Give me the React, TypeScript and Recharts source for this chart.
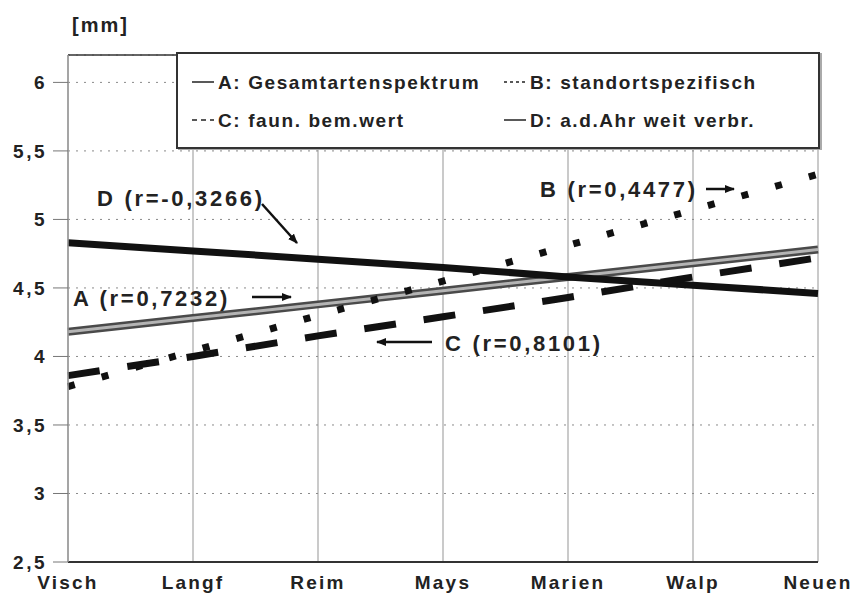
import React from 'react';
import { LineChart, Line, XAxis, YAxis, CartesianGrid, ReferenceLine } from 'recharts';

const sites = ['Visch', 'Langf', 'Reim', 'Mays', 'Marien', 'Walp', 'Neuen'];
// values, in mm
const seriesA = [4.18, 4.28, 4.38, 4.48, 4.58, 4.68, 4.78];
const seriesB = [3.78, 4.04, 4.3, 4.55, 4.81, 5.07, 5.33];
const seriesC = [3.86, 4.0, 4.15, 4.29, 4.43, 4.58, 4.72];
const seriesD = [4.83, 4.77, 4.71, 4.65, 4.58, 4.52, 4.46];
const yTicks = [2.5, 3, 3.5, 4, 4.5, 5, 5.5, 6];

const legendItems = [
  { label: 'A: Gesamtartenspektrum', dash: '' },
  { label: 'B: standortspezifisch', dash: '3 3' },
  { label: 'C: faun. bem.wert', dash: '5 4' },
  { label: 'D: a.d.Ahr weit verbr.', dash: '' },
];

const FONT = '"Liberation Sans", Arial, Helvetica, sans-serif';

const data = sites.map((s, i) => ({
  site: s,
  A: seriesA[i],
  B: seriesB[i],
  C: seriesC[i],
  D: seriesD[i],
}));

const YTick = (props: any) => {
  const { x, y, payload } = props;
  return (
    <text x={x} y={y} dy="0.36em" textAnchor="end" fontSize={19} fontWeight="bold"
      fill="#222" fontFamily={FONT} letterSpacing={2.5}>
      {String(payload.value).replace('.', ',')}
    </text>
  );
};

const XTick = (props: any) => {
  const { x, y, payload } = props;
  return (
    <text x={x} y={y} dy="0.71em" textAnchor="middle" fontSize={19} fontWeight="bold"
      fill="#222" fontFamily={FONT} letterSpacing={2.2}>
      {payload.value}
    </text>
  );
};

const Arrow = ({ x1, y1, x2, y2 }: { x1: number; y1: number; x2: number; y2: number }) => (
  <line x1={x1} y1={y1} x2={x2} y2={y2} stroke="#111" strokeWidth={2.5} markerEnd="url(#arrowHead)" />
);

const App: React.FC = () => {
  return (
    <div style={{ position: 'absolute', left: 0, top: 0, width: 858, height: 595, background: '#fff', fontFamily: FONT }}>
      <LineChart width={858} height={595} data={data} margin={{ top: 55, right: 40, bottom: 0, left: 0 }}>
        <CartesianGrid horizontal={false} stroke="#b8b8b8" strokeWidth={1.5} />
        <CartesianGrid vertical={false} stroke="#8a8a8a" strokeDasharray="2 6" />
        <XAxis dataKey="site" height={33} tickLine={false} tickMargin={8} tick={<XTick />}
          axisLine={{ stroke: '#333', strokeWidth: 2 }} />
        <YAxis width={68} domain={[2.5, 6.2]} ticks={yTicks} tickSize={15} tickMargin={6}
          tick={<YTick />} axisLine={{ stroke: '#999', strokeWidth: 1.5 }} tickLine={{ stroke: '#777' }} />
        <ReferenceLine y={6.2} stroke="#333" strokeWidth={1.5} />
        <Line dataKey="A" stroke="#4a4a4a" strokeWidth={8} dot={false} isAnimationActive={false} />
        <Line dataKey="A" stroke="#b4b4b4" strokeWidth={3} dot={false} isAnimationActive={false} />
        <Line dataKey="D" stroke="#111" strokeWidth={7} dot={false} isAnimationActive={false} />
        <Line dataKey="B" stroke="#111" strokeWidth={7} strokeDasharray="7 28" dot={false} isAnimationActive={false} />
        <Line dataKey="C" stroke="#111" strokeWidth={7} strokeDasharray="32 28" dot={false} isAnimationActive={false} />
      </LineChart>

      <svg width={858} height={595} style={{ position: 'absolute', left: 0, top: 0, pointerEvents: 'none' }}>
        <defs>
          <marker id="arrowHead" markerWidth="10" markerHeight="8" refX="9" refY="4" orient="auto" markerUnits="userSpaceOnUse">
            <path d="M0,0 L10,4 L0,8 Z" fill="#111" />
          </marker>
        </defs>
        <text x={72} y={32} fontSize={20} fontWeight="bold" fill="#222" letterSpacing={2}>[mm]</text>
        <g fontSize={22} fontWeight="bold" fill="#222" letterSpacing={2.7}>
          <text x={97} y={206}>D (r=-0,3266)</text>
          <text x={73} y={306}>A (r=0,7232)</text>
          <text x={540} y={197}>B (r=0,4477)</text>
          <text x={445} y={351}>C (r=0,8101)</text>
        </g>
        <Arrow x1={262} y1={204} x2={297} y2={243} />
        <Arrow x1={252} y1={297} x2={291} y2={297} />
        <Arrow x1={706} y1={189} x2={734} y2={189} />
        <Arrow x1={432} y1={342} x2={377} y2={342} />
      </svg>

      <div style={{
        position: 'absolute', left: 176, top: 52, width: 640, height: 93,
        border: '2px solid #333', background: '#fff', boxShadow: '2px 1px 0 #aaa',
      }}>
        {legendItems.map((item, i) => {
          const col = i % 2;
          const row = Math.floor(i / 2);
          return (
            <div key={item.label} style={{
              position: 'absolute', left: col === 0 ? 12 : 324, top: row === 0 ? 18 : 56,
              display: 'flex', alignItems: 'center', whiteSpace: 'nowrap',
            }}>
              <svg width={24} height={12} style={{ marginRight: 4 }}>
                <line x1={2} y1={5} x2={24} y2={5} stroke="#222" strokeWidth={1.5} strokeDasharray={item.dash || undefined} />
              </svg>
              <span style={{ fontSize: 19, fontWeight: 'bold', color: '#222', letterSpacing: 1.6 }}>{item.label}</span>
            </div>
          );
        })}
      </div>
    </div>
  );
};

export default App;
